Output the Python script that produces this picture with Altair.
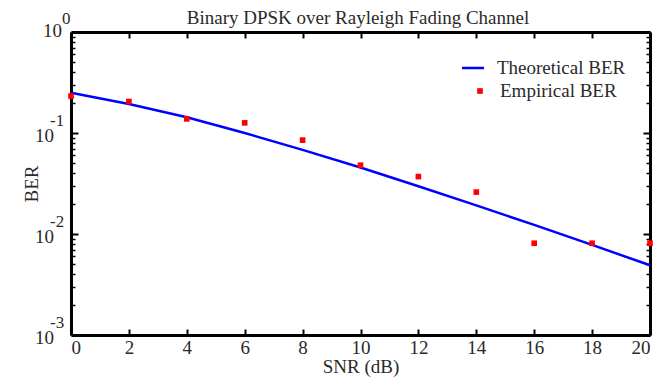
import altair as alt
import pandas as pd

snr = [0, 2, 4, 6, 8, 10, 12, 14, 16, 18, 20]
ber_theory = [0.25, 0.194, 0.143, 0.100, 0.068, 0.0455, 0.0297, 0.0192, 0.0123, 0.0078, 0.0049]
ber_emp = [0.232, 0.205, 0.138, 0.126, 0.085, 0.048, 0.037, 0.026, 0.0081, 0.0081, 0.0081]
x_ticks = [0, 2, 4, 6, 8, 10, 12, 14, 16, 18, 20]
y_major = [1.0, 0.1, 0.01, 0.001]
y_exps = ["0", "-1", "-2", "-3"]
y_minor = [m * d for d in [0.001, 0.01, 0.1] for m in range(2, 10)]
title_text = ["Binary DPSK over Rayleigh Fading Channel"]

W, H = 579, 303
FONT = "Liberation Serif"
TXT = "#2a2a2a"
K = "black"

theory = pd.DataFrame({"snr": snr, "ber": ber_theory})
emp = pd.DataFrame({"snr": snr, "ber": ber_emp})
ymaj = pd.DataFrame({"ber": y_major, "exp": y_exps})
tdf = pd.DataFrame({"t": title_text})

xs = alt.Scale(domain=[0, 20], nice=False)
ys = alt.Scale(type="log", domain=[0.001, 1], nice=False)


def bare(**kw):
    base = dict(grid=False, labels=False, ticks=False, domain=False, title=None)
    base.update(kw)
    return alt.Axis(**base)


# main layer: line + bottom/left frame edges, labels, titles
X = alt.X("snr:Q", scale=xs, axis=alt.Axis(
    values=x_ticks, title="SNR (dB)", ticks=False, domain=True, domainColor=K,
    domainWidth=3, grid=False,
    labelFont=FONT, labelFontSize=19, labelColor=TXT, labelPadding=3,
    titleFont=FONT, titleFontSize=19, titleFontWeight="normal", titleColor=TXT,
    titlePadding=0))
Y = alt.Y("ber:Q", scale=ys, axis=alt.Axis(
    labels=False, ticks=False, domain=True, domainColor=K, domainWidth=3,
    grid=False, title="BER",
    titleFont=FONT, titleFontSize=19, titleFontWeight="normal", titleColor=TXT,
    titlePadding=30))
line = alt.Chart(theory).mark_line(color="#0000ff", strokeWidth=2.5).encode(x=X, y=Y)

# top/right frame edges
pts = alt.Chart(emp).mark_point(shape="square", filled=True, color="#ff0000",
                                size=32, opacity=1).encode(
    x=alt.X("snr:Q", axis=bare(orient="top", domain=True, domainColor=K, domainWidth=3)),
    y=alt.Y("ber:Q", axis=bare(orient="right", domain=True, domainColor=K, domainWidth=3)))

# inward major ticks (bottom/left)
tick_bl = alt.Chart(theory).mark_point(opacity=0).encode(
    x=alt.X("snr:Q", axis=bare(orient="bottom", offset=-6, values=x_ticks, ticks=True,
                                tickSize=6, tickWidth=2, tickColor=K)),
    y=alt.Y("ber:Q", axis=bare(orient="left", offset=-7, values=y_major, ticks=True,
                                tickSize=7, tickWidth=2, tickColor=K)))
# inward major ticks (top/right)
tick_tr = alt.Chart(theory).mark_point(opacity=0).encode(
    x=alt.X("snr:Q", axis=bare(orient="top", offset=-6, values=x_ticks, ticks=True,
                                tickSize=6, tickWidth=2, tickColor=K)),
    y=alt.Y("ber:Q", axis=bare(orient="right", offset=-7, values=y_major, ticks=True,
                                tickSize=7, tickWidth=2, tickColor=K)))
# inward minor ticks left / right
minor_l = alt.Chart(theory).mark_point(opacity=0).encode(
    x=alt.X("snr:Q", axis=None),
    y=alt.Y("ber:Q", axis=bare(orient="left", offset=-4, values=y_minor, ticks=True,
                                tickSize=4, tickWidth=1.5, tickColor=K)))
minor_r = alt.Chart(theory).mark_point(opacity=0).encode(
    x=alt.X("snr:Q", axis=None),
    y=alt.Y("ber:Q", axis=bare(orient="right", offset=-4, values=y_minor, ticks=True,
                                tickSize=4, tickWidth=1.5, tickColor=K)))

YN = alt.Y("ber:Q", axis=None)
ten_neg = alt.Chart(ymaj).transform_filter("datum.ber < 0.5").mark_text(
    font=FONT, fontSize=19, color=TXT, align="right", baseline="middle", dy=3
).encode(y=YN, x=alt.value(-17), text=alt.value("10"))
exp_neg = alt.Chart(ymaj).transform_filter("datum.ber < 0.5").mark_text(
    font=FONT, fontSize=17, color=TXT, align="left", baseline="middle", dy=-12
).encode(y=YN, x=alt.value(-21), text="exp:N")
ten_0 = alt.Chart(ymaj).transform_filter("datum.ber > 0.5").mark_text(
    font=FONT, fontSize=19, color=TXT, align="right", baseline="middle", dy=-1
).encode(y=YN, x=alt.value(-9), text=alt.value("10"))
exp_0 = alt.Chart(ymaj).transform_filter("datum.ber > 0.5").mark_text(
    font=FONT, fontSize=17, color=TXT, align="left", baseline="middle", dy=-13
).encode(y=YN, x=alt.value(-9), text="exp:N")

title = alt.Chart(tdf).mark_text(
    font=FONT, fontSize=19, color=TXT, align="center", baseline="middle"
).encode(x=alt.value(287), y=alt.value(-14), text="t:N")

# legend
leg_df = pd.DataFrame({"label": ["Theoretical BER", "Empirical BER"]})
leg_line = alt.Chart(leg_df).transform_filter("datum.label == 'Theoretical BER'").mark_rule(
    color="#0000ff", strokeWidth=2.5).encode(x=alt.value(391), x2=alt.value(413), y=alt.value(36))
leg_pt = alt.Chart(leg_df).transform_filter("datum.label == 'Empirical BER'").mark_point(
    shape="square", filled=True, color="#ff0000", size=32, opacity=1).encode(
    x=alt.value(409), y=alt.value(59))
leg_t1 = alt.Chart(leg_df).transform_filter("datum.label == 'Theoretical BER'").mark_text(
    font=FONT, fontSize=19, color=TXT, align="left", baseline="middle").encode(
    x=alt.value(426), y=alt.value(36), text="label:N")
leg_t2 = alt.Chart(leg_df).transform_filter("datum.label == 'Empirical BER'").mark_text(
    font=FONT, fontSize=19, color=TXT, align="left", baseline="middle").encode(
    x=alt.value(429), y=alt.value(59), text="label:N")

chart = alt.layer(
    line, pts, tick_bl, tick_tr, minor_l, minor_r,
    ten_neg, exp_neg, ten_0, exp_0,
    title, leg_line, leg_pt, leg_t1, leg_t2
).resolve_axis(x="independent", y="independent").properties(
    width=W, height=H,
    autosize=alt.AutoSizeParams(type="none"),
    padding={"left": 63, "top": 24, "right": 4, "bottom": 42},
).configure_view(strokeWidth=0)

chart.save("out.html", embed_options={"renderer": "svg", "actions": False})
